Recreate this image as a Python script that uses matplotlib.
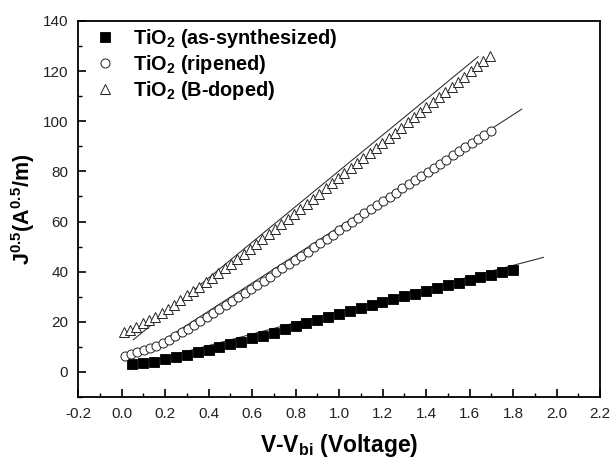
import numpy as np
import matplotlib
matplotlib.use("Agg")
import matplotlib.pyplot as plt
from matplotlib.ticker import MultipleLocator

plt.rcParams['font.family'] = ['Liberation Sans', 'DejaVu Sans']
plt.rcParams['mathtext.fontset'] = 'custom'
plt.rcParams['mathtext.rm'] = 'Liberation Sans:bold'
plt.rcParams['mathtext.it'] = 'Liberation Sans:bold'
plt.rcParams['mathtext.bf'] = 'Liberation Sans:bold'
plt.rcParams['mathtext.default'] = 'bf'

# ---- data ----
x_asyn = np.round(np.arange(0.05, 1.801, 0.05), 3)
y_asyn = [3.1, 3.5, 4.1, 5.0, 5.8, 6.8, 7.8, 8.8, 10.1, 11.2, 12.1, 13.4,
          14.5, 15.7, 17.2, 18.3, 19.4, 20.9, 22.1, 23.1, 24.3, 25.7, 26.6,
          27.9, 29.0, 30.1, 31.2, 32.4, 33.5, 34.6, 35.6, 36.7, 37.8, 38.7,
          39.8, 40.7]

x_rip = np.round(0.015 + 0.029 * np.arange(59), 4)
y_rip = [6.5, 7.1, 7.8, 8.6, 9.5, 10.4, 11.5, 12.8, 14.3, 15.8, 17.3, 18.8,
         20.3, 21.9, 23.4, 25.0, 26.6, 28.2, 29.8, 31.5, 33.1, 34.8, 36.4,
         38.0, 39.7, 41.4, 43.0, 44.7, 46.3, 48.0, 49.7, 51.4, 53.1, 54.8,
         56.5, 58.2, 59.9, 61.6, 63.3, 65.0, 66.6, 68.2, 69.9, 71.5, 73.2,
         74.8, 76.5, 78.1, 79.8, 81.4, 83.1, 84.7, 86.4, 88.0, 89.7, 91.3,
         93.0, 94.6, 96.3]

x_bdop = np.round(0.01 + 0.029 * np.arange(59), 4)
y_bdop = [15.8, 16.9, 18.1, 19.4, 20.7, 22.1, 23.6, 25.2, 26.9, 28.7, 30.5,
          32.2, 34.0, 35.7, 37.5, 39.4, 41.3, 43.2, 45.2, 47.1, 49.0, 50.9,
          52.9, 54.9, 56.9, 58.9, 61.0, 63.0, 65.0, 67.1, 69.1, 71.1, 73.2,
          75.2, 77.2, 79.3, 81.3, 83.3, 85.3, 87.4, 89.4, 91.4, 93.5, 95.5,
          97.5, 99.6, 101.6, 103.6, 105.6, 107.7, 109.7, 111.7, 113.8, 115.8,
          117.8, 119.9, 121.9, 124.0, 126.0]

fit_asyn_x = [0.05, 1.94]
fit_asyn_y = [2.5, 45.7]
fit_rip_x = [0.20, 1.84]
fit_rip_y = [13.0, 104.8]
fit_bdop_x = [0.054, 1.64]
fit_bdop_y = [12.8, 125.8]

labels = ['TiO$_2$ (as-synthesized)', 'TiO$_2$ (ripened)', 'TiO$_2$ (B-doped)']

# ---- figure ----
fig = plt.figure(figsize=(6.11, 4.59), dpi=100)
ax = fig.add_axes([78/611, 1-397/459, (600-78)/611, (397-21)/459])

ax.plot(fit_asyn_x, fit_asyn_y, color='#333333', lw=0.8, zorder=1)
ax.plot(fit_rip_x, fit_rip_y, color='#333333', lw=0.8, zorder=1)
ax.plot(fit_bdop_x, fit_bdop_y, color='#333333', lw=0.8, zorder=1)

ax.plot(x_asyn, y_asyn, 's', ms=6.5, mfc='black', mec='black', mew=0.6,
        ls='none', label=labels[0], zorder=3)
ax.plot(x_rip, y_rip, 'o', ms=6.5, mfc='white', mec='#222222',
        mew=0.7, ls='none', label=labels[1], zorder=3)
ax.plot(x_bdop, y_bdop, '^', ms=7.5, mfc='white', mec='#222222',
        mew=0.7, ls='none', label=labels[2], zorder=3)

ax.set_xlim(-0.2, 2.2)
ax.set_ylim(-10, 140)
ax.xaxis.set_major_locator(MultipleLocator(0.2))
ax.xaxis.set_minor_locator(MultipleLocator(0.1))
ax.yaxis.set_major_locator(MultipleLocator(20))
ax.yaxis.set_minor_locator(MultipleLocator(10))
ax.xaxis.set_major_formatter(plt.FuncFormatter(lambda v, p: f'{v:.1f}'))
ax.tick_params(which='major', direction='in', length=6, width=1.2,
               labelsize=11, top=False, right=False, pad=7,
               labelcolor='#222222')
ax.tick_params(which='minor', direction='in', length=3, width=1.0,
               top=False, right=False)
for s in ax.spines.values():
    s.set_linewidth(1.3)

ax.set_xlabel(r'V-V$_{bi}$ (Voltage)', fontsize=16.5, fontweight='bold',
              labelpad=8)
ax.set_ylabel(r'J$^{0.5}$(A$^{0.5}$/m)', fontsize=15.5, fontweight='bold',
              labelpad=4)

leg = ax.legend(loc='upper left', frameon=False, fontsize=14.3,
                handlelength=1.0, handletextpad=0.9, labelspacing=0.15,
                bbox_to_anchor=(0.021, 1.0), borderaxespad=0.0,
                borderpad=0.3)
for t in leg.get_texts():
    t.set_fontweight('bold')

fig.savefig('out.png', dpi=100)
